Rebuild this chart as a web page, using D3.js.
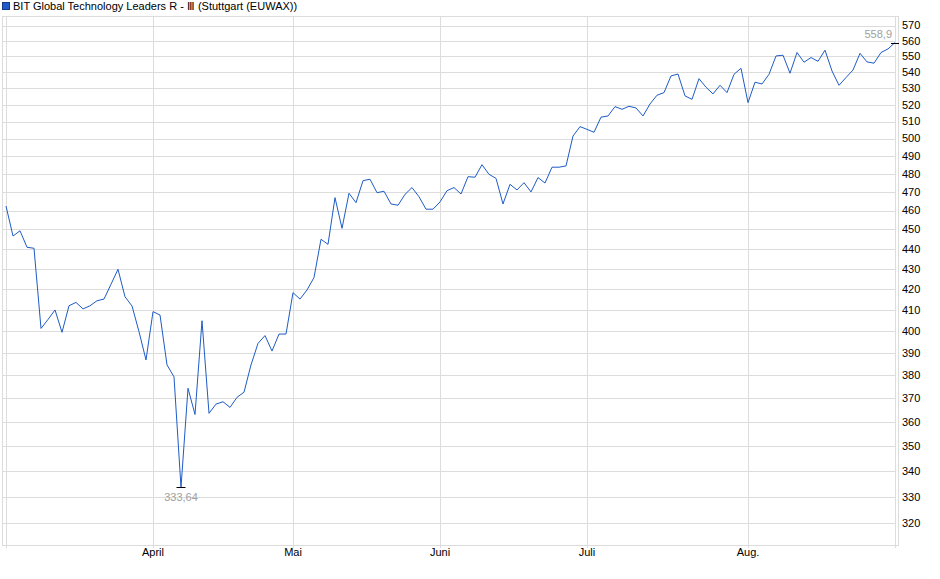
<!DOCTYPE html>
<html>
<head>
<meta charset="utf-8">
<script src="https://cdn.jsdelivr.net/npm/d3@7"></script>
<style>
  html, body { margin: 0; padding: 0; background: #fff; }
  svg { display: block; font-family: "Liberation Sans", Arial, sans-serif; }
</style>
</head>
<body>
<div id="chart"></div>
<script>
// Daily closing prices, one per trading day (3 Mar - 1 Sep)
const prices = [
  462.4, 446.6, 449.3, 440.8, 440.3, 401.2, 405.4, 409.9, 399.4, 411.9,
  413.5, 410.4, 411.9, 414.3, 415.1, 422.3, 429.7, 416.2, 411.8, 399.7,
  386.8, 409.1, 407.5, 384.6, 379.3, 333.64, 374.3, 363.1, 404.8, 363.6,
  367.5, 368.5, 366.1, 370.4, 372.6, 384.6, 394.3, 397.9, 390.8, 398.6,
  398.6, 418.2, 415.1, 419.5, 425.6, 444.9, 442.3, 466.9, 450.6, 469.3,
  464.2, 476.2, 477.0, 469.6, 470.4, 463.5, 462.8, 468.7, 472.4, 467.4,
  460.7, 460.7, 464.6, 470.7, 472.4, 468.9, 478.4, 478.1, 485.1, 479.7,
  477.5, 463.5, 474.2, 471.1, 475.1, 470.0, 477.9, 474.9, 483.7, 483.7,
  484.4, 501.5, 507.0, 505.4, 503.7, 512.6, 513.3, 518.9, 517.3, 519.1,
  518.1, 513.3, 520.5, 525.8, 527.4, 537.7, 538.9, 525.4, 523.3, 536.0,
  530.7, 526.6, 531.9, 527.4, 538.7, 542.5, 521.3, 533.8, 532.7, 538.7,
  550.3, 550.8, 539.4, 552.5, 546.3, 549.3, 546.9, 554.0, 540.8, 531.9,
  536.7, 541.4, 552.0, 546.5, 545.7, 552.5, 554.8, 558.9
];

// first trading day of each month (index into prices)
const monthLabels = ["April", "Mai", "Juni", "Juli", "Aug."];
const monthStarts = [21, 41, 62, 83, 106];

const yTicks = d3.range(320, 571, 10);
const title = "BIT Global Technology Leaders R - Ⅲ (Stuttgart (EUWAX))";

const W = 940, H = 579;
const plotLeft = 2, plotRight = 898, plotTop = 16, plotBottom = 545;
const dataLeft = 6, dataRight = 895;
const lineColor = "#1e5bc6";
const gridColor = "#dcdcdc";

const svg = d3.select("#chart").append("svg")
  .attr("width", W)
  .attr("height", H);

const x = d3.scaleLinear()
  .domain([0, prices.length - 1])
  .range([dataLeft, dataRight]);

const y = d3.scaleLog()
  .domain([312.1, 576.4])
  .range([plotBottom, plotTop]);

// title with legend square
svg.append("rect")
  .attr("x", 2.5).attr("y", 2.5)
  .attr("width", 7).attr("height", 7)
  .attr("fill", lineColor)
  .attr("stroke", "#123c8a");
svg.append("text")
  .attr("x", 13).attr("y", 10)
  .attr("font-size", 11)
  .attr("fill", "#000")
  .text(title);

const grid = svg.append("g")
  .attr("stroke", gridColor)
  .attr("shape-rendering", "crispEdges");

// horizontal grid
grid.selectAll("line.h")
  .data(yTicks)
  .join("line")
  .attr("class", "h")
  .attr("x1", plotLeft).attr("x2", dataRight)
  .attr("y1", d => Math.round(y(d)) + 0.5)
  .attr("y2", d => Math.round(y(d)) + 0.5);

// month lines
grid.selectAll("line.m")
  .data(monthStarts)
  .join("line")
  .attr("class", "m")
  .attr("x1", d => Math.round(x(d)) + 0.5)
  .attr("x2", d => Math.round(x(d)) + 0.5)
  .attr("y1", plotTop).attr("y2", plotBottom + 3);

// data start / end lines
grid.selectAll("line.e")
  .data([0, prices.length - 1])
  .join("line")
  .attr("class", "e")
  .attr("x1", d => Math.round(x(d)) + 0.5)
  .attr("x2", d => Math.round(x(d)) + 0.5)
  .attr("y1", plotTop).attr("y2", plotBottom + 3);

// frame
grid.append("rect")
  .attr("x", plotLeft + 0.5).attr("y", plotTop + 0.5)
  .attr("width", plotRight - plotLeft).attr("height", plotBottom - plotTop)
  .attr("fill", "none");

// y labels on the right
svg.append("g")
  .attr("font-size", 11)
  .attr("fill", "#000")
  .selectAll("text")
  .data(yTicks)
  .join("text")
  .attr("x", 902)
  .attr("y", d => y(d))
  .attr("dy", "0.35em")
  .text(d => d);

// month labels
svg.append("g")
  .attr("font-size", 11)
  .attr("fill", "#000")
  .attr("text-anchor", "middle")
  .selectAll("text")
  .data(monthStarts)
  .join("text")
  .attr("x", d => x(d))
  .attr("y", 556)
  .text((d, i) => monthLabels[i]);

// price line
const line = d3.line()
  .x((d, i) => x(i))
  .y(d => y(d));

svg.append("path")
  .datum(prices)
  .attr("fill", "none")
  .attr("stroke", lineColor)
  .attr("stroke-width", 1)
  .attr("d", line);

// min / max markers
const fmt = v => String(v).replace(".", ",");
const minI = d3.minIndex(prices), maxI = d3.maxIndex(prices);

svg.append("line")
  .attr("x1", x(minI) - 4.5).attr("x2", x(minI) + 4.5)
  .attr("y1", Math.round(y(prices[minI])) + 0.5)
  .attr("y2", Math.round(y(prices[minI])) + 0.5)
  .attr("stroke", "#000");
svg.append("text")
  .attr("x", x(minI))
  .attr("y", y(prices[minI]) + 14)
  .attr("text-anchor", "middle")
  .attr("font-size", 11)
  .attr("fill", "#a0a0a0")
  .text(fmt(prices[minI]));

svg.append("line")
  .attr("x1", x(maxI) - 4).attr("x2", x(maxI) + 4)
  .attr("y1", Math.round(y(prices[maxI])) + 0.5)
  .attr("y2", Math.round(y(prices[maxI])) + 0.5)
  .attr("stroke", "#000");
svg.append("text")
  .attr("x", x(maxI) - 3)
  .attr("y", y(prices[maxI]) - 4.5)
  .attr("text-anchor", "end")
  .attr("font-size", 11)
  .attr("fill", "#a0a0a0")
  .text(fmt(prices[maxI]));
</script>
</body>
</html>
